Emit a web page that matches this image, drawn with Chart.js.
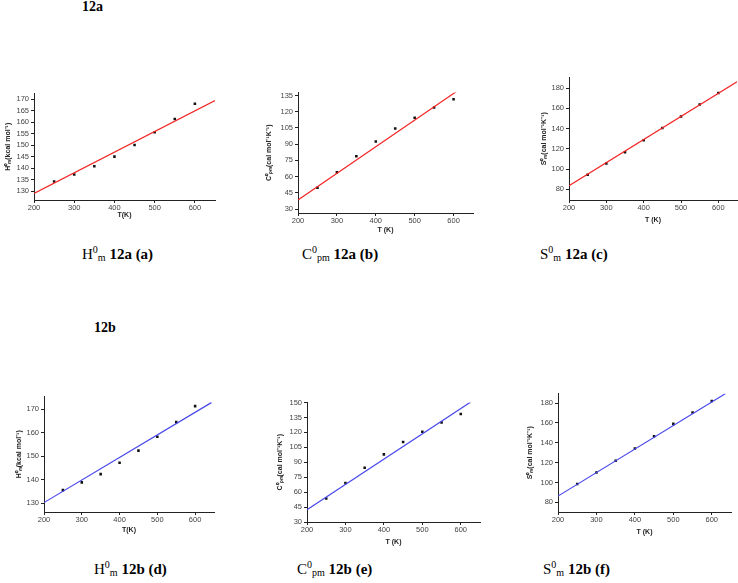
<!DOCTYPE html>
<html>
<head>
<meta charset="utf-8">
<script src="https://cdn.jsdelivr.net/npm/chart.js@4.4.1/dist/chart.umd.min.js"></script>
<style>
  body { margin: 0; background: #fff; width: 738px; height: 583px; position: relative; overflow: hidden; font-family: "Liberation Serif", "Times New Roman", serif; }
  canvas { position: absolute; }
  .lbl { position: absolute; font-size: 15px; line-height: 15px; color: #000; white-space: nowrap; }
  .lbl .sp { font-size: 10px; vertical-align: 6px; line-height: 0; }
  .lbl .sb { font-size: 10px; vertical-align: -2px; line-height: 0; }
  .lbl b { font-weight: bold; }
  .sec { position: absolute; font-size: 14px; line-height: 14px; font-weight: bold; }
</style>
</head>
<body>

<div class="sec" style="left:82px;top:0px">12a</div>
<div class="sec" style="left:94px;top:321px">12b</div>

<div class="lbl" style="left:82px;top:247px">H<span class="sp">0</span><span class="sb">m</span> <b>12a (a)</b></div>
<div class="lbl" style="left:302px;top:247px">C<span class="sp">0</span><span class="sb">pm</span> <b>12a (b)</b></div>
<div class="lbl" style="left:540px;top:247px">S<span class="sp">0</span><span class="sb">m</span> <b>12a (c)</b></div>
<div class="lbl" style="left:94px;top:562px">H<span class="sp">0</span><span class="sb">m</span> <b>12b (d)</b></div>
<div class="lbl" style="left:297px;top:562px">C<span class="sp">0</span><span class="sb">pm</span> <b>12b (e)</b></div>
<div class="lbl" style="left:543px;top:562px">S<span class="sp">0</span><span class="sb">m</span> <b>12b (f)</b></div>

<canvas id="g_a"></canvas>
<canvas id="g_b"></canvas>
<canvas id="g_c"></canvas>
<canvas id="g_d"></canvas>
<canvas id="g_e"></canvas>
<canvas id="g_f"></canvas>

<script>
// temperaturas comunes a todas las graficas
const temperaturas = [250, 300, 350, 400, 450, 500, 550, 600];
const ticksT = [200, 300, 400, 500, 600];

// 12a
const entalpiaA = [134.2, 137.2, 140.8, 145.0, 150.1, 155.6, 161.4, 168.0];
const capacidadA = [49.6, 64.1, 78.8, 92.4, 104.4, 114.5, 124.0, 131.6];
const entropiaA = [94.4, 105.5, 116.6, 128.4, 140.5, 151.9, 163.7, 175.1];

// 12b
const entalpiaB = [135.6, 138.9, 142.4, 147.2, 152.4, 158.3, 164.5, 171.3];
const capacidadB = [53.7, 69.1, 84.5, 97.9, 110.3, 120.7, 130.0, 138.4];
const entropiaB = [98.4, 110.1, 121.8, 134.2, 146.6, 159.0, 170.4, 182.0];

// rectas de ajuste (extremos)
const ajusteTA = [200, 650];  const ajusteHA = [129.0, 169.4];
const ajusteTCA = [200, 611]; const ajusteCA = [38.3, 139.6];
const ajusteTSA = [200, 650]; const ajusteSA = [83.5, 186.2];
const ajusteTHB = [200, 643]; const ajusteHB = [130.3, 172.8];
const ajusteTCB = [200, 625]; const ajusteCB = [42.4, 150.3];
const ajusteTSB = [200, 635]; const ajusteSB = [86.3, 189.3];

// marcas del eje y
const ticksHA = [130, 135, 140, 145, 150, 155, 160, 165, 170];
const ticksCA = [30, 45, 60, 75, 90, 105, 120, 135];
const ticksSA = [80, 100, 120, 140, 160, 180];
const ticksHB = [130, 140, 150, 160, 170];
const ticksCB = [30, 45, 60, 75, 90, 105, 120, 135, 150];
const ticksSB = [80, 100, 120, 140, 160, 180];

const rojo = '#f22424';
const azul = '#4848ec';

function puntos(xs, ys) {
  return xs.map((x, i) => ({ x: x, y: ys[i] }));
}

// caja = posicion del area de la grafica en la pagina
function crearGrafica(id, caja, datos) {
  const padTop = 6, padRight = 4;
  const canvas = document.getElementById(id);
  const ancho = caja.right - caja.left + caja.yW + padRight;
  const alto = caja.bottom - caja.top + padTop + caja.xH;
  canvas.width = ancho;
  canvas.height = alto;
  canvas.style.left = (caja.left - caja.yW) + 'px';
  canvas.style.top = (caja.top - padTop) + 'px';

  const fuenteTicks = { family: 'Liberation Sans', size: 7.5 };
  const fuenteTitulo = { family: 'Liberation Sans', size: 7, weight: 'bold' };

  return new Chart(canvas, {
    type: 'scatter',
    data: {
      datasets: [
        {
          data: puntos(datos.ajusteT, datos.ajusteV),
          showLine: true,
          borderColor: datos.color,
          borderWidth: 1.2,
          pointRadius: 0,
        },
        {
          data: puntos(temperaturas, datos.valores),
          pointStyle: 'rect',
          pointRadius: 1.8,
          backgroundColor: '#111',
          borderColor: '#111',
          borderWidth: 0,
        },
      ],
    },
    options: {
      responsive: false,
      animation: false,
      devicePixelRatio: 1,
      layout: { padding: { top: padTop, right: padRight, left: 0, bottom: 0 } },
      plugins: { legend: { display: false }, tooltip: { enabled: false } },
      scales: {
        x: {
          type: 'linear',
          min: 200,
          max: 650,
          afterBuildTicks: (s) => { s.ticks = ticksT.map((v) => ({ value: v })); },
          afterFit: (s) => { s.height = caja.xH; },
          grid: { drawOnChartArea: false, tickLength: 3, color: '#222' },
          border: { color: '#222', width: 1 },
          ticks: { font: fuenteTicks, color: '#444', padding: 0, maxRotation: 0 },
          title: { display: true, text: datos.tituloX, font: fuenteTitulo, color: '#222', padding: 0 },
        },
        y: {
          min: caja.yMin,
          max: caja.yMax,
          afterBuildTicks: (s) => { s.ticks = datos.ticks.map((v) => ({ value: v })); },
          afterFit: (s) => { s.width = caja.yW; },
          grid: { drawOnChartArea: false, tickLength: 3, color: '#222' },
          border: { color: '#222', width: 1 },
          ticks: { font: fuenteTicks, color: '#444', padding: 2 },
          title: { display: true, text: datos.tituloY, font: fuenteTitulo, color: '#222', padding: 0 },
        },
      },
    },
  });
}

crearGrafica('g_a',
  { left: 34, right: 215, top: 93, bottom: 200, yW: 30, xH: 19, yMin: 126.1, yMax: 172.5 },
  { valores: entalpiaA, ajusteT: ajusteTA, ajusteV: ajusteHA, color: rojo, ticks: ticksHA,
    tituloX: 'T(K)', tituloY: 'H⁰ₘ(kcal mol⁻¹)' });

crearGrafica('g_b',
  { left: 298, right: 473, top: 92, bottom: 213, yW: 33, xH: 21, yMin: 26.3, yMax: 137.8 },
  { valores: capacidadA, ajusteT: ajusteTCA, ajusteV: ajusteCA, color: rojo, ticks: ticksCA,
    tituloX: 'T (K)', tituloY: 'C⁰ₚₘ(cal mol⁻¹K⁻¹)' });

crearGrafica('g_c',
  { left: 569, right: 737, top: 77, bottom: 200, yW: 29, xH: 24, yMin: 69.5, yMax: 190.4 },
  { valores: entropiaA, ajusteT: ajusteTSA, ajusteV: ajusteSA, color: rojo, ticks: ticksSA,
    tituloX: 'T (K)', tituloY: 'S⁰ₘ(cal mol⁻¹K⁻¹)' });

crearGrafica('g_d',
  { left: 44, right: 214, top: 396, bottom: 512, yW: 29, xH: 22, yMin: 126.3, yMax: 175.4 },
  { valores: entalpiaB, ajusteT: ajusteTHB, ajusteV: ajusteHB, color: azul, ticks: ticksHB,
    tituloX: 'T(K)', tituloY: 'H⁰ₘ(kcal mol⁻¹)' });

crearGrafica('g_e',
  { left: 307, right: 480, top: 402, bottom: 522, yW: 31, xH: 24, yMin: 30, yMax: 150 },
  { valores: capacidadB, ajusteT: ajusteTCB, ajusteV: ajusteCB, color: azul, ticks: ticksCB,
    tituloX: 'T (K)', tituloY: 'C⁰ₚₘ(cal mol⁻¹K⁻¹)' });

crearGrafica('g_f',
  { left: 558, right: 731, top: 393, bottom: 512, yW: 32, xH: 24, yMin: 70.3, yMax: 189.6 },
  { valores: entropiaB, ajusteT: ajusteTSB, ajusteV: ajusteSB, color: azul, ticks: ticksSB,
    tituloX: 'T (K)', tituloY: 'S⁰ₘ(cal mol⁻¹K⁻¹)' });
</script>
</body>
</html>
